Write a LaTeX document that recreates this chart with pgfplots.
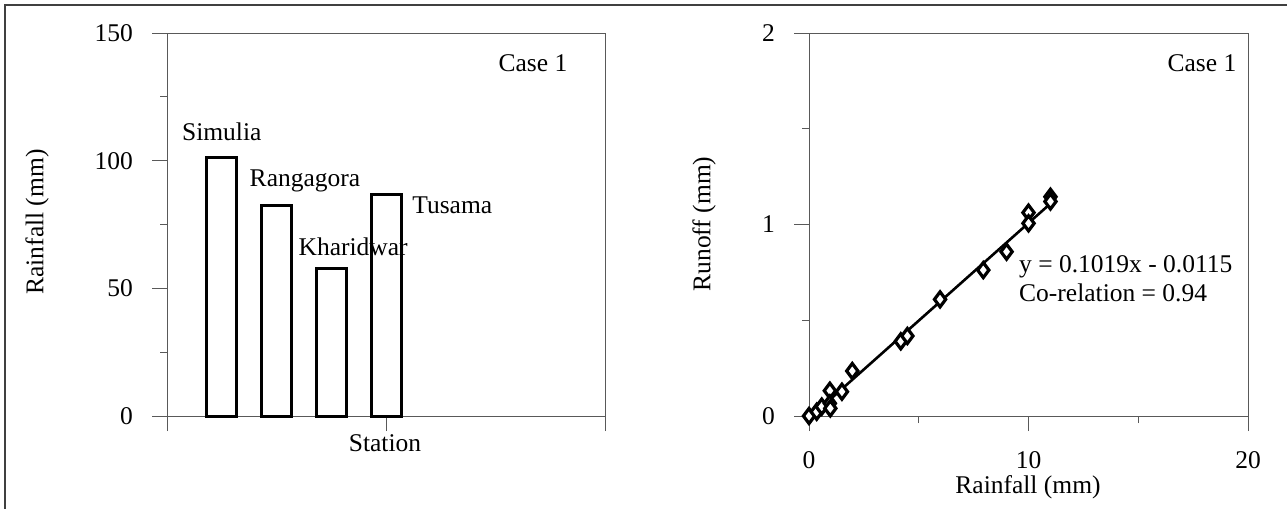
\documentclass[border=0pt]{standalone}
\usepackage{fontspec}
\setmainfont{Liberation Serif}
\usepackage{pgfplots}
\pgfplotsset{compat=1.18}
\begin{document}
\begin{tikzpicture}[x=1bp,y=-1bp,font=\fontsize{25.5bp}{30bp}\selectfont]
\useasboundingbox (0,0) rectangle (1287,509);
\draw[line width=1.6bp, black!75] (5,509) -- (5,5) -- (1287,5);
\pgfplotsset{
 common/.style={
   scale only axis, anchor=south west,
   axis line style={black!65, line width=0.9bp},
   every tick/.style={black!65, line width=0.9bp},
   tick align=outside,
   xtick pos=left, ytick pos=left,
   major tick length=15bp, minor tick length=7bp,
   tick label style={font=\fontsize{25.5bp}{30bp}\selectfont},
   /pgf/number format/assume math mode=true,
 }
}
\begin{axis}[common, at={(167bp,-416bp)}, width=438bp, height=383bp,
  xmin=0, xmax=8, ymin=0, ymax=150,
  xtick={0,4,8}, xticklabels={},
  ytick={0,50,100,150}, minor y tick num=1,
  yticklabel style={anchor=east, inner sep=0pt, xshift=-19bp},
  clip=false]
\node[anchor=center] at (axis cs:1.0,111.2) {Simulia};
\node[anchor=center] at (axis cs:2.52,92.0) {Rangagora};
\node[anchor=center] at (axis cs:3.40,66.2) {Kharidwar};
\node[anchor=center] at (axis cs:5.21,82.6) {Tusama};
\addplot[ybar, bar width=30bp, bar shift=0pt, fill=none, draw=black, line width=3bp]
  coordinates {(1,101.1) (2,82.3) (3,57.6) (4,86.9)};
\end{axis}
\begin{axis}[common, at={(809bp,-416bp)}, width=439bp, height=383bp,
  xmin=0, xmax=20, ymin=0, ymax=2,
  xtick={0,10,20}, ytick={0,1,2}, minor x tick num=1, minor y tick num=1,
  yticklabel style={anchor=east, inner sep=0pt, xshift=-19bp},
  xticklabel style={anchor=center, inner sep=0pt, yshift=-29bp},
  clip mode=individual]
\addplot[black, line width=2.6bp] coordinates {(0,-0.0115) (11,1.1094)};
\addplot[only marks, mark=diamond*, mark size=7.5bp, mark options={fill=white, draw=black, line width=3.2bp}]
  coordinates {(0,0) (0.35,0.022) (0.58,0.049) (0.95,0.132) (0.95,0.066) (0.97,0.04)
  (1.5,0.127) (1.97,0.235) (4.18,0.39) (4.48,0.418) (5.97,0.609) (7.94,0.762)
  (9.0,0.858) (10.0,1.062) (10.0,1.006) (11.0,1.145) (11.0,1.12)};
\end{axis}
\node[anchor=center] at (533,63) {Case 1};
\node[anchor=center] at (1202,63) {Case 1};
\node[anchor=center] at (385,443) {Station};
\node[anchor=center, rotate=90] at (37,222) {Rainfall (mm)};
\node[anchor=center, rotate=90] at (704,224) {Runoff (mm)};
\node[anchor=center] at (1028,487) {Rainfall (mm)};
\node[anchor=west, inner sep=0pt] at (1019,267) {y = 0.1019x - 0.0115};
\node[anchor=west, inner sep=0pt] at (1019,293) {Co-relation = 0.94};
\end{tikzpicture}
\end{document}
